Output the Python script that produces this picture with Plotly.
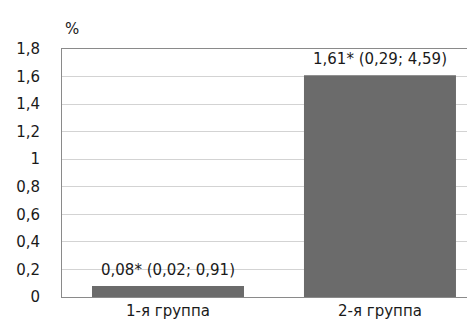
import plotly.graph_objects as go

categories = ["1-я группа", "2-я группа"]
values = [0.08, 1.61]
labels = ["0,08* (0,02; 0,91)", "1,61* (0,29; 4,59)"]
tick_vals = [0, 0.2, 0.4, 0.6, 0.8, 1, 1.2, 1.4, 1.6, 1.8]
tick_text = ["0", "0,2", "0,4", "0,6", "0,8", "1", "1,2", "1,4", "1,6", "1,8"]

FONT = "DejaVu Sans, Liberation Sans, Arial, sans-serif"
TXT = "#1a1a1a"

fig = go.Figure()
fig.add_trace(go.Bar(
    x=categories, y=values,
    marker=dict(color="#6b6b6b", line=dict(width=0)),
    width=0.717,
))

annotations = [
    dict(x=c, y=v, xref="x", yref="y", text=t, showarrow=False,
         xanchor="center", yanchor="bottom", yshift=5,
         font=dict(family=FONT, size=15, color=TXT))
    for c, v, t in zip(categories, values, labels)
]
annotations.append(dict(text="%", xref="paper", yref="paper", x=0.0, y=1.0,
                        xanchor="left", yanchor="middle", yshift=20, xshift=1,
                        showarrow=False, font=dict(family=FONT, size=15, color=TXT)))

fig.update_layout(
    width=475, height=322,
    margin=dict(l=54, r=0, t=41, b=33),
    paper_bgcolor="white", plot_bgcolor="white",
    showlegend=False,
    font=dict(family=FONT, size=15, color=TXT),
    xaxis=dict(range=[-0.5, 1.486], showline=True, mirror=True,
               linecolor="#8a8a8a", linewidth=1, showgrid=False,
               ticks="", tickfont=dict(size=15), automargin=False),
    yaxis=dict(range=[0, 1.8], tickvals=tick_vals, ticktext=tick_text,
               showline=True, linecolor="#8a8a8a", linewidth=1,
               gridcolor="#d3d3d3", gridwidth=1, zeroline=False,
               ticks="", tickfont=dict(size=15), ticklabelstandoff=18,
               automargin=False),
    annotations=annotations,
)

fig.write_html("out.html")
